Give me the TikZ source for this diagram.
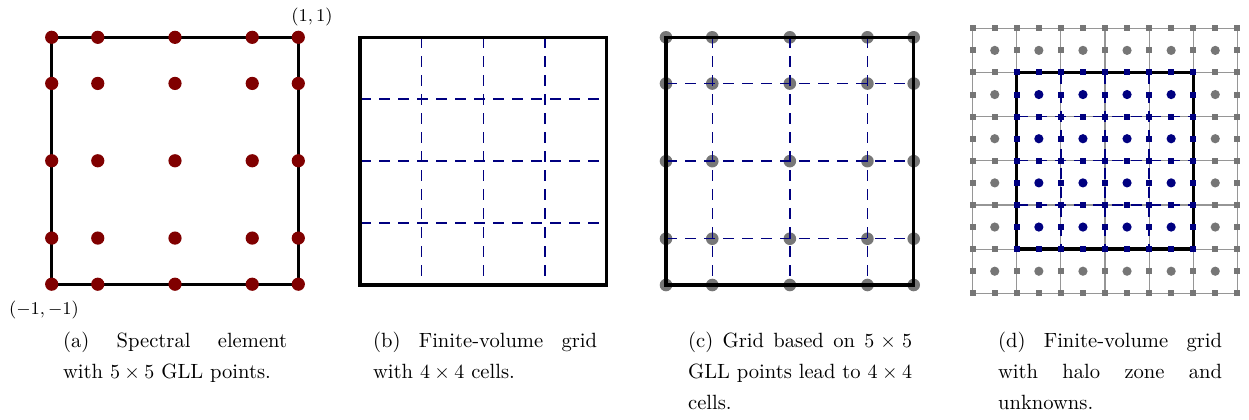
\documentclass[tikz,border=0pt]{standalone}
\definecolor{maroonc}{RGB}{128,0,0}
\definecolor{navyc}{RGB}{0,0,128}
\definecolor{dotgray}{RGB}{112,112,112}
\definecolor{markgray}{RGB}{118,118,118}
\definecolor{gridgray}{RGB}{150,150,150}
\tikzset{
  border/.style={line width=1.6pt, black},
  fvdash/.style={navyc, line width=0.75pt, dash pattern=on 5.5pt off 4pt},
  gridline/.style={gridgray, line width=0.55pt},
  capline/.style={anchor=base west, inner sep=0pt, font=\fontsize{10.3}{12}\selectfont},
  cornerlab/.style={inner sep=0pt, font=\fontsize{9.5}{11}\selectfont}
}
\begin{document}
\begin{tikzpicture}[x=0.5pt,y=-0.5pt]
\useasboundingbox (0,0) rectangle (1249,419);

% ---------- (a) spectral element ----------
\draw[border] (51.7,37.3) rectangle (298.3,284.2);
\foreach \gx in {0,0.1868,0.5,0.8132,1}{
  \foreach \gy in {0,0.1868,0.5,0.8132,1}{
    \fill[maroonc] ({51.7+246.6*\gx},{37.3+246.9*\gy}) circle (3.3pt);
  }
}
\node[cornerlab] (lab11) at (312,17) {$(1,1)$};
\node[cornerlab] (labmm) at (44,310) {$(-1,-1)$};

% ---------- (b) finite-volume grid ----------
\foreach \i in {1,2,3}{
  \draw[fvdash] ({360+61.7*\i},37.3) -- ({360+61.7*\i},285);
  \draw[fvdash] (360,{37.3+61.9*\i}) -- (606.7,{37.3+61.9*\i});
}
\draw[border] (360,37.3) rectangle (606.7,285);

% ---------- (c) GLL based grid ----------
\foreach \gx in {0,0.1868,0.5,0.8132,1}{
  \foreach \gy in {0,0.1868,0.5,0.8132,1}{
    \fill[dotgray, opacity=0.95] ({666+247.7*\gx},{37.3+247.7*\gy}) circle (3.15pt);
  }
}
\foreach \g in {0.1868,0.5,0.8132}{
  \draw[fvdash] ({666+247.7*\g},37.3) -- ({666+247.7*\g},285);
  \draw[fvdash] (666,{37.3+247.7*\g}) -- (913.7,{37.3+247.7*\g});
}
\draw[border] (666,37.3) rectangle (913.7,285);

% ---------- (d) halo grid ----------
\foreach \i in {0,...,6}{
  \draw[gridline] ({972.7+44.1*\i},28.3) -- ({972.7+44.1*\i},293.3);
  \draw[gridline] (972.7,{28.3+44.17*\i}) -- (1237.3,{28.3+44.17*\i});
}
\foreach \i in {2,3,4}{
  \draw[fvdash, line width=0.65pt] ({972.7+44.1*\i},72.5) -- ({972.7+44.1*\i},249);
  \draw[fvdash, line width=0.65pt] (1016.8,{28.3+44.17*\i}) -- (1193.2,{28.3+44.17*\i});
}
\draw[border] (1016.8,72.5) rectangle (1193.2,249);

\foreach \k in {0,...,12}{
  \foreach \l in {0,...,12}{
    \pgfmathtruncatemacro\inn{and(and(\k>=2,\k<=10),and(\l>=2,\l<=10))}
    \pgfmathtruncatemacro\both{and(isodd(\k),isodd(\l))}
    \ifnum\inn=1 \def\mc{navyc}\else\def\mc{markgray}\fi
    \ifnum\both=1
      \fill[\mc] ({972.7+22.05*\k},{28.3+22.083*\l}) circle (2.3pt);
    \else
      \fill[\mc] ({972.7+22.05*\k},{28.3+22.083*\l}) ++(-3,-3) rectangle ++(6,6);
    \fi
  }
}

% ---------- captions ----------
\node[capline] (ca1) at (62.7,347.7) {\makebox[112pt][s]{(a) Spectral element}};
\node[capline] (ca2) at (62.7,378.4) {with $5\times5$ GLL points.};

\node[capline] (cb1) at (372.7,347.7) {\makebox[112pt][s]{(b) Finite-volume grid}};
\node[capline] (cb2) at (372.7,378.4) {with $4\times4$ cells.};

\node[capline] (cc1) at (687.7,347.7) {\makebox[112pt][s]{(c) Grid based on $5\times5$}};
\node[capline] (cc2) at (687.7,378.4) {\makebox[112pt][s]{GLL points lead to $4\times4$}};
\node[capline] (cc3) at (687.7,409.1) {cells.};

\node[capline] (cd1) at (997.7,347.7) {\makebox[112pt][s]{(d) Finite-volume grid}};
\node[capline] (cd2) at (997.7,378.4) {\makebox[112pt][s]{with halo zone and}};
\node[capline] (cd3) at (997.7,409.1) {unknowns.};
\end{tikzpicture}
\end{document}
